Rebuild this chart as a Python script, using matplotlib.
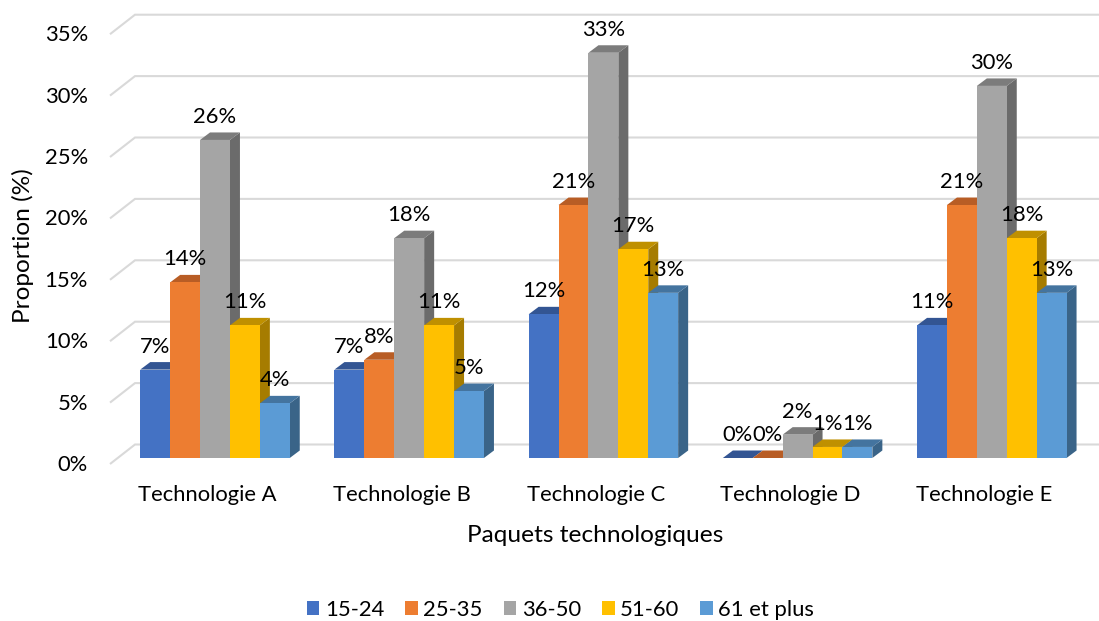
#!/usr/bin/env python3
# -*- coding: utf-8 -*-

import matplotlib
matplotlib.use('Agg')
import matplotlib.pyplot as plt
from matplotlib.patches import Patch, Polygon

plt.rcParams['font.family'] = ['Lato', 'DejaVu Sans']

categories = ['Technologie A', 'Technologie B', 'Technologie C',
              'Technologie D', 'Technologie E']
age_groups = ['15-24', '25-35', '36-50', '51-60', '61 et plus']

values_15_24 = [7.2, 7.2, 11.7, 0.0, 10.8]
values_25_35 = [14.3, 8.0, 20.6, 0.0, 20.6]
values_36_50 = [25.9, 17.9, 33.0, 1.9, 30.3]
values_51_60 = [10.8, 10.8, 17.0, 0.9, 17.9]
values_61_plus = [4.45, 5.45, 13.45, 0.9, 13.45]
series = [values_15_24, values_25_35, values_36_50, values_51_60,
          values_61_plus]

y_ticks = [0, 5, 10, 15, 20, 25, 30, 35]

front_colors = ['#4472C4', '#ED7D31', '#A5A5A5', '#FFC000', '#5B9BD5']
top_colors = ['#335593', '#B85D25', '#7C7C7C', '#BF9000', '#44749F']
side_colors = ['#2C4A80', '#A05020', '#6B6B6B', '#A67C00', '#3A6488']

W, H = 1099, 621
CAT_PX = 194.2     # pixels per category
PCT_PX = 12.28     # pixels per percent
X0_PX = 215        # pixel centre of first group
Y0_PX = 458        # pixel of bar base
BAR_W = 29.9 / CAT_PX
TEXT = '#000000'
FS = 15.8
FS_TITLE = 17.6

fig = plt.figure(figsize=(W / 100, H / 100), dpi=100, facecolor='white')
ax = fig.add_axes([0, 0, 1, 1])
ax.set_xlim(-X0_PX / CAT_PX, (W - X0_PX) / CAT_PX)
ax.set_ylim((Y0_PX - H) / PCT_PX, Y0_PX / PCT_PX)
ax.axis('off')

# depth of the fake 3d, in data units
bar_dx = 10 / CAT_PX
bar_dy = 7.5 / PCT_PX

# gridlines: short diagonal on the side wall, then along the back wall
grid_x = [(110 - X0_PX) / CAT_PX, (135 - X0_PX) / CAT_PX, (W - X0_PX) / CAT_PX]
for tick in y_ticks:
    grid_y = [tick - 6 / PCT_PX, tick + 13.5 / PCT_PX, tick + 13.5 / PCT_PX]
    ax.plot(grid_x, grid_y, color='#D9D9D9', lw=1.5, zorder=1,
            solid_capstyle='butt', solid_joinstyle='miter')
    ax.annotate(f'{tick}%', xy=(grid_x[0], tick), xytext=(-22, -7),
                textcoords='offset pixels', ha='right', va='center',
                fontsize=FS, color=TEXT)

# bars, left to right so each one hides the side of the previous one
for c in range(len(categories)):
    for s, vals in enumerate(series):
        left = c + (s - 2.5) * BAR_W
        right = left + BAR_W
        v = vals[c]
        z = 2 + c + s * 0.1
        ax.add_patch(Polygon([(right, 0), (right + bar_dx, bar_dy),
                              (right + bar_dx, v + bar_dy), (right, v)],
                             facecolor=side_colors[s], edgecolor='none',
                             zorder=z))
        ax.add_patch(Polygon([(left, v), (left + bar_dx, v + bar_dy),
                              (right + bar_dx, v + bar_dy), (right, v)],
                             facecolor=top_colors[s], edgecolor='none',
                             zorder=z))
        ax.bar(left, v, width=BAR_W, align='edge', color=front_colors[s],
               zorder=z + 0.01)

# data labels
for c in range(len(categories)):
    for s, vals in enumerate(series):
        x = c + (s - 2) * BAR_W
        ax.annotate(f'{round(vals[c])}%', xy=(x, vals[c]), xytext=(0, 23),
                    textcoords='offset pixels', ha='center', va='center',
                    fontsize=FS, color=TEXT, zorder=20)

for c, name in enumerate(categories):
    ax.annotate(name, xy=(c, 0), xytext=(-7.5, -37),
                textcoords='offset pixels', ha='center', va='center',
                fontsize=FS, color=TEXT)

fig.text(595 / W, 1 - 535 / H, 'Paquets technologiques', ha='center',
         va='center', fontsize=FS_TITLE, color=TEXT)
fig.text(23 / W, 1 - 246 / H, 'Proportion (%)', ha='center', va='center',
         rotation=90, fontsize=FS_TITLE, color=TEXT)

handles = [Patch(facecolor=col, edgecolor='none') for col in front_colors]
fig.legend(handles, age_groups, loc='center', ncols=5,
           bbox_to_anchor=(560.5 / W, 1 - 610 / H), frameon=False, fontsize=FS,
           handlelength=0.58, handleheight=0.58, handletextpad=0.25,
           columnspacing=0.95, labelcolor=TEXT, borderpad=0)

fig.savefig('out.png', dpi=100)
